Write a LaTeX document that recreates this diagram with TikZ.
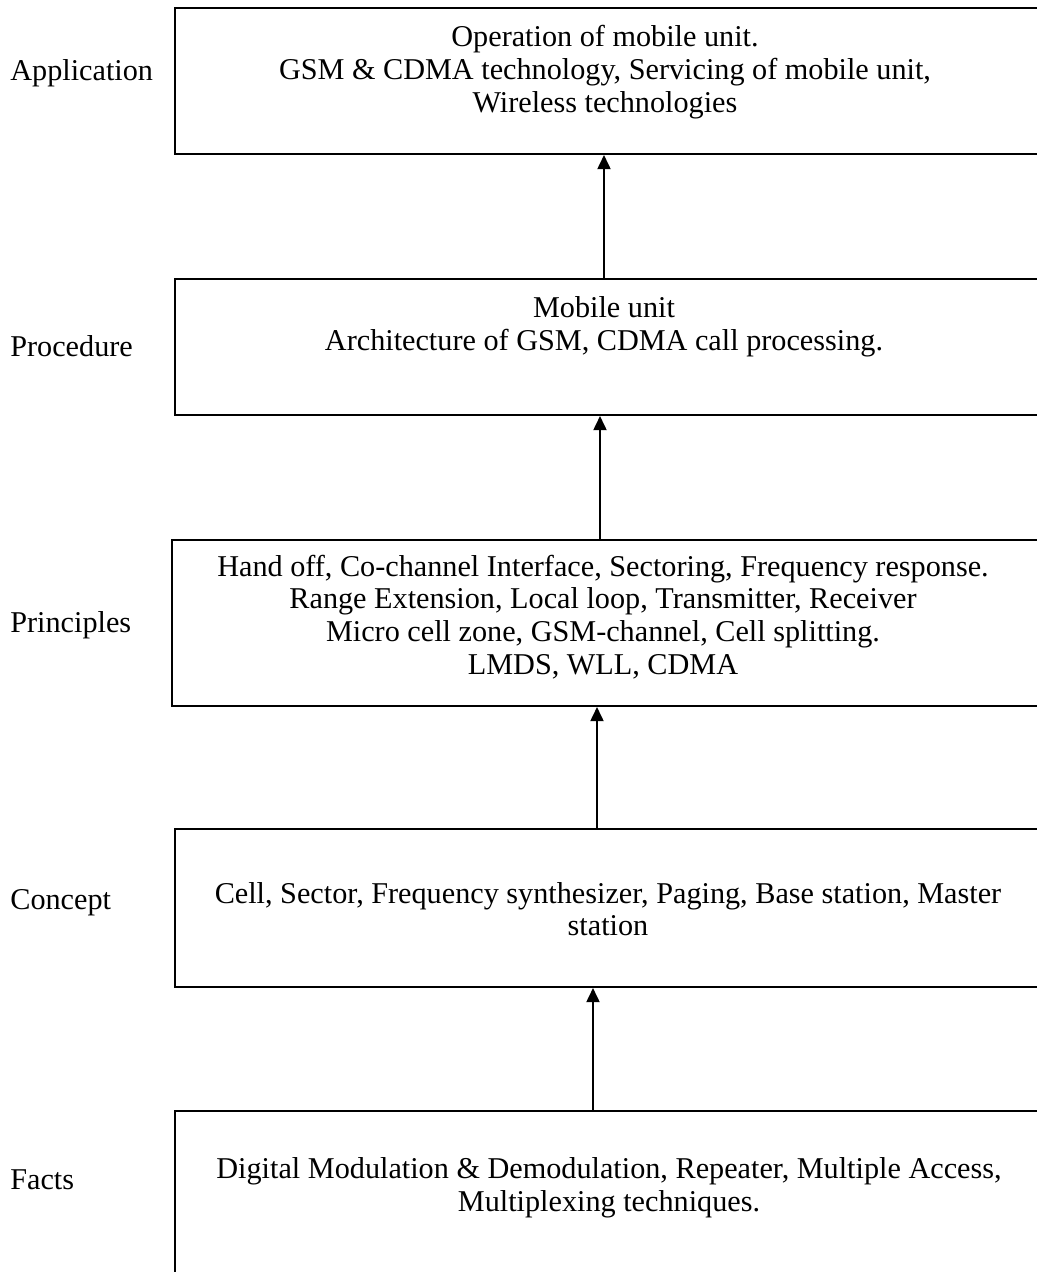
\documentclass[tikz,border=0pt]{standalone}
\usepackage{fontspec}
\setmainfont{Liberation Serif}
\usetikzlibrary{arrows.meta,fit}

\begin{document}
\begin{tikzpicture}[x=0.02cm, y=-0.02cm,
    frame/.style={rectangle, draw=black, line width=1.2pt, inner sep=0pt},
    level/.style={anchor=base west, inner sep=0pt, font=\fontsize{17.2}{18.6}\selectfont},
    content/.style={align=center, inner sep=0pt, font=\fontsize{17.2}{18.6}\selectfont},
    up/.style={draw=black, line width=0.8pt, -{Triangle[length=8pt, width=7.5pt]}}
]
    \useasboundingbox (0,0) rectangle (1037,1272);
    \clip (0,0) rectangle (1037,1272);

    % Application
    \node[level] (applbl) at (10,80) {Application};
    \node[frame, fit={(175,8) (1045,154)}] (appbox) {};
    \node[content] (apptxt) at (605,72) {
        Operation of mobile unit. \\
        GSM \& CDMA technology, Servicing of mobile unit, \\
        Wireless technologies
    };

    % Procedure
    \node[level] (proclbl) at (10,356) {Procedure};
    \node[frame, fit={(175,279) (1045,415)}] (procbox) {};
    \node[content] (proctxt) at (604,327) {
        Mobile unit \\
        Architecture of GSM, CDMA call processing.
    };

    % Principles
    \node[level] (princlbl) at (10,632) {Principles};
    \node[frame, fit={(172,540) (1045,706)}] (princbox) {};
    \node[content] (princtxt) at (603,617) {
        Hand off, Co-channel Interface, Sectoring, Frequency response. \\
        Range Extension, Local loop, Transmitter, Receiver \\
        Micro cell zone, GSM-channel, Cell splitting. \\
        LMDS, WLL, CDMA
    };

    % Concept
    \node[level] (conclbl) at (10,909) {Concept};
    \node[frame, fit={(175,829) (1045,987)}] (concbox) {};
    \node[content] (conctxt) at (608,909) {
        Cell, Sector, Frequency synthesizer, Paging, Base station, Master \\
        station
    };

    % Facts
    \node[level] (factlbl) at (10,1189) {Facts};
    \node[frame, fit={(175,1111) (1045,1295)}] (factbox) {};
    \node[content] (facttxt) at (609,1188) {
        Digital Modulation \& Demodulation, Repeater, Multiple Access, \\
        Multiplexing techniques.
    };

    % Arrows between levels
    \draw[up] (procbox.north -| 604,0) -- (appbox.south -| 604,0);
    \draw[up] (princbox.north -| 600,0) -- (procbox.south -| 600,0);
    \draw[up] (concbox.north -| 597,0) -- (princbox.south -| 597,0);
    \draw[up] (factbox.north -| 593,0) -- (concbox.south -| 593,0);
\end{tikzpicture}
\end{document}
